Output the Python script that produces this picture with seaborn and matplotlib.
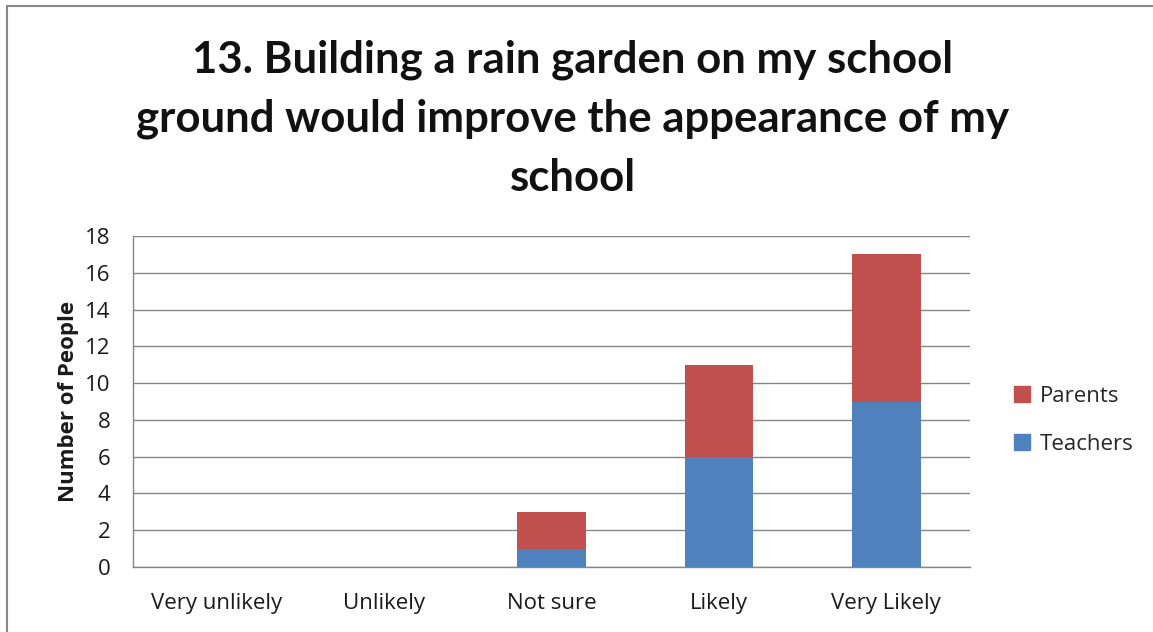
import pandas as pd
import matplotlib
matplotlib.use("Agg")
import matplotlib.pyplot as plt
import matplotlib.patches as mpatches
import seaborn as sns

# chart data
categories = ["Very unlikely", "Unlikely", "Not sure", "Likely", "Very Likely"]
teachers = [0, 0, 1, 6, 9]
parents = [0, 0, 2, 5, 8]
y_ticks = [0, 2, 4, 6, 8, 10, 12, 14, 16, 18]

title = "13. Building a rain garden on my school\nground would improve the appearance of my\nschool"

sns.set_theme(style="white")
plt.rcParams["font.family"] = ["Open Sans", "DejaVu Sans"]

df = pd.DataFrame({
    "category": categories,
    "Teachers": teachers,
    "Parents": parents,
})
df["total"] = df["Teachers"] + df["Parents"]

blue = "#4F81BD"
red = "#C0504D"
grid_col = "#868686"
txt = "#1a1a1a"
fs = 16

fig = plt.figure(figsize=(11.53, 6.32), dpi=100)
ax = fig.add_axes([0.1154, 0.1028, 0.7259, 0.5238])

sns.barplot(data=df, x="category", y="total", color=red, width=0.41,
            saturation=1, ax=ax, linewidth=0, zorder=3)
sns.barplot(data=df, x="category", y="Teachers", color=blue, width=0.41,
            saturation=1, ax=ax, linewidth=0, zorder=4)

ax.set_ylim(0, 18)
ax.set_xlim(-0.5, len(categories) - 0.5)
ax.set_yticks(y_ticks)
ax.set_yticklabels([str(t) for t in y_ticks], fontsize=fs, color=txt)
ax.set_xticks(range(len(categories)))
ax.set_xticklabels(categories, fontsize=fs, color=txt)
ax.tick_params(axis="x", length=0, pad=19)
ax.tick_params(axis="y", length=0, pad=16.5)
ax.set_xlabel("")
ax.set_ylabel("Number of People", fontsize=fs, fontweight="bold",
              color=txt, labelpad=4)

ax.yaxis.grid(True, color=grid_col, linewidth=1, zorder=0)
ax.set_axisbelow(True)
for side in ["top", "right"]:
    ax.spines[side].set_visible(False)
for side in ["left", "bottom"]:
    ax.spines[side].set_color(grid_col)
    ax.spines[side].set_linewidth(1)

fig.text(0.497, 0.938, title, ha="center", va="top", fontsize=31.5,
         fontweight="bold", linespacing=1.58, color="#111111",
         family=["Lato", "DejaVu Sans"])

handles = [
    mpatches.Patch(color=red, label="Parents"),
    mpatches.Patch(color=blue, label="Teachers"),
]
fig.legend(handles=handles, loc="center left", bbox_to_anchor=(0.862, 0.335),
           frameon=False, fontsize=fs, handlelength=0.72, handleheight=0.72,
           handletextpad=0.45, labelspacing=1.22)

# outer chart border
border = mpatches.Rectangle((7 / 1153, -0.05), 1.1, 1 - 6 / 632 + 0.05,
                            transform=fig.transFigure, fill=False,
                            edgecolor="#888888", linewidth=1.5)
fig.patches.append(border)

fig.savefig("out.png", dpi=100)
